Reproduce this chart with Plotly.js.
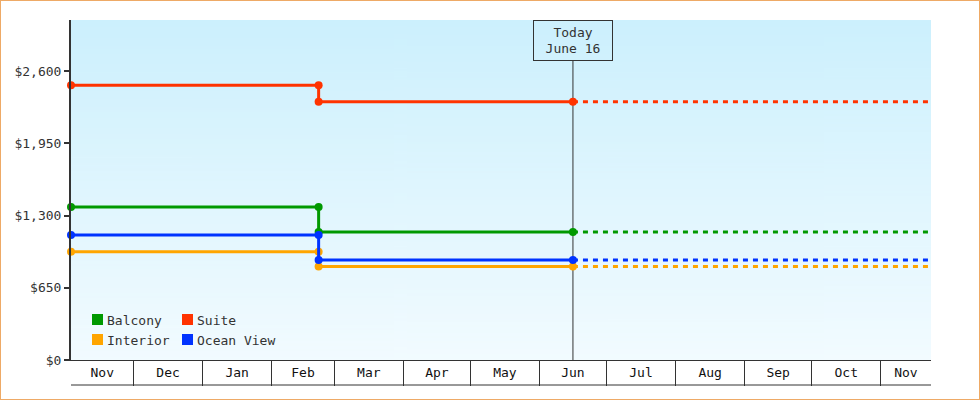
<!DOCTYPE html>
<html><head><meta charset="utf-8">
<script src="https://cdn.plot.ly/plotly-3.0.1.min.js"></script>
<style>
html,body{margin:0;padding:0;background:#fff;}
#frame{width:978px;height:398px;border:1px solid #eeaa66;}
#chart{width:978px;height:398px;}
</style></head><body>
<div id="frame"><div id="chart"></div></div>
<script>
// ---- data ----
const seriesNames = ['Balcony', 'Interior', 'Ocean View', 'Suite'];
const seriesColors = ['#009900', '#ffa500', '#0033ff', '#ff3300'];
const priceBefore = [1378, 974, 1124, 2472];
const priceAfter = [1151, 842, 899, 2325];
const startDate = '2024-11-03';
const changeDate = '2025-02-22';
const todayDate = '2025-06-16';
const endDate = '2025-11-23 12:00';
const todayLabel = 'Today<br>June 16';
const monthStarts = ['2024-12-01', '2025-01-01', '2025-02-01', '2025-03-01', '2025-04-01', '2025-05-01',
  '2025-06-01', '2025-07-01', '2025-08-01', '2025-09-01', '2025-10-01', '2025-11-01'];
const monthLabels = ['Nov', 'Dec', 'Jan', 'Feb', 'Mar', 'Apr', 'May', 'Jun', 'Jul', 'Aug', 'Sep', 'Oct', 'Nov'];
const yTickVals = [0, 650, 1300, 1950, 2600];
const yTickText = ['$0', '$650', '$1,300', '$1,950', '$2,600'];
const yMax = 3060;
const legendOrder = ['Balcony', 'Suite', 'Interior', 'Ocean View'];

// ---- helpers ----
const FONT = 'DejaVu Sans Mono, monospace';
const INK = '#333333';
function toMs(s) { const p = s.split(' '); return Date.parse(p[0] + 'T' + (p[1] || '00:00') + ':00Z'); }
function fromMs(ms) { return new Date(ms).toISOString().replace('T', ' ').slice(0, 19); }

// layout geometry
const W = 978, H = 398;
const M = {l: 70, r: 48, t: 19, b: 39};
const PW = W - M.l - M.r, PH = H - M.t - M.b;
const px2x = px => (px - M.l) / PW;   // px relative to chart div
const px2y = py => 1 - (py - M.t) / PH;

// ---- traces ----
const traces = [];
seriesNames.forEach((name, i) => {
  traces.push({
    type: 'scatter', mode: 'lines+markers', name: name,
    x: [startDate, changeDate, changeDate, todayDate],
    y: [priceBefore[i], priceBefore[i], priceAfter[i], priceAfter[i]],
    line: {color: seriesColors[i], width: 3},
    marker: {color: seriesColors[i], size: 8, symbol: 'circle'},
    cliponaxis: false, showlegend: false
  });
  traces.push({
    type: 'scatter', mode: 'lines', name: name + ' (projected)',
    x: [todayDate, endDate],
    y: [priceAfter[i], priceAfter[i]],
    line: {color: seriesColors[i], width: 3, dash: '5px,5px'},
    showlegend: false
  });
});
// invisible trace on the label axis
traces.push({type: 'scatter', mode: 'none', x: [startDate, endDate], y: [0, 0], xaxis: 'x2', showlegend: false, hoverinfo: 'skip'});

// month label centres of each visible month cell
const bounds = [startDate].concat(monthStarts, [endDate]).map(toMs);
const labelVals = [];
for (let k = 0; k < bounds.length - 1; k++) labelVals.push(fromMs((bounds[k] + bounds[k + 1]) / 2));

// ---- gradient background ----
const cv = document.createElement('canvas');
cv.width = 4; cv.height = 256;
const cx = cv.getContext('2d');
const g = cx.createLinearGradient(0, 0, 0, 256);
g.addColorStop(0, '#ccf0fd');
g.addColorStop(1, '#f2fbff');
cx.fillStyle = g; cx.fillRect(0, 0, 4, 256);
const bgURL = cv.toDataURL('image/png');

// ---- legend (custom, 2 columns) ----
const shapes = [], annotations = [];
const legX = [92, 182], legY = [319, 339];
legendOrder.forEach((name, k) => {
  const i = seriesNames.indexOf(name);
  const col = k % 2, row = Math.floor(k / 2);
  const sx = legX[col] - 1, sy = legY[row] - 1;
  shapes.push({type: 'rect', xref: 'paper', yref: 'paper',
    x0: px2x(sx), x1: px2x(sx + 11), y0: px2y(sy - 5), y1: px2y(sy + 6),
    line: {width: 0}, fillcolor: seriesColors[i], layer: 'above'});
  annotations.push({xref: 'paper', yref: 'paper', x: px2x(sx + 13), y: px2y(sy + 1),
    xanchor: 'left', yanchor: 'middle', showarrow: false, text: name,
    font: {family: FONT, size: 13, color: INK}});
});

// today marker line and label box
const boxH = 41;
shapes.push({type: 'line', xref: 'x', yref: 'paper', x0: todayDate, x1: todayDate,
  y0: 0, y1: 1 - boxH / PH, line: {color: INK, width: 1}, layer: 'below'});
annotations.push({xref: 'x', yref: 'paper', x: todayDate, y: 1, xanchor: 'center', yanchor: 'top',
  showarrow: false, text: todayLabel, width: 78, height: boxH - 2, borderpad: 0,
  bordercolor: INK, borderwidth: 1, font: {family: FONT, size: 13, color: INK}});

// bottom line of the month box
shapes.push({type: 'line', xref: 'paper', yref: 'paper', x0: 0, x1: 1,
  y0: -25 / PH, y1: -25 / PH, line: {color: INK, width: 1}});

const layout = {
  width: W, height: H,
  margin: M,
  paper_bgcolor: '#ffffff', plot_bgcolor: 'rgba(0,0,0,0)',
  hovermode: false, showlegend: false,
  font: {family: FONT, size: 13, color: INK},
  xaxis: {
    type: 'date', range: [startDate, endDate], fixedrange: true,
    tickmode: 'array', tickvals: monthStarts, showticklabels: false,
    ticks: 'outside', ticklen: 25, tickwidth: 1, tickcolor: INK,
    showline: true, linecolor: INK, linewidth: 1, showgrid: false, zeroline: false
  },
  xaxis2: {
    type: 'date', range: [startDate, endDate], overlaying: 'x', anchor: 'y', side: 'bottom',
    tickmode: 'array', tickvals: labelVals, ticktext: monthLabels,
    ticks: '', ticklabelstandoff: 3, showline: false, showgrid: false, zeroline: false,
    tickfont: {family: FONT, size: 13, color: '#111'}
  },
  yaxis: {
    range: [0, yMax], fixedrange: true,
    tickmode: 'array', tickvals: yTickVals, ticktext: yTickText,
    ticks: 'outside', ticklen: 5, tickwidth: 2, tickcolor: INK,
    showline: true, linecolor: INK, linewidth: 2, showgrid: false, zeroline: false,
    tickfont: {family: FONT, size: 13, color: INK}
  },
  images: [{source: bgURL, xref: 'paper', yref: 'paper', x: 0, y: 1, sizex: 1, sizey: 1,
    xanchor: 'left', yanchor: 'top', sizing: 'stretch', layer: 'below'}],
  shapes: shapes,
  annotations: annotations
};

Plotly.newPlot('chart', traces, layout, {displayModeBar: false, staticPlot: true});
</script>
</body></html>
